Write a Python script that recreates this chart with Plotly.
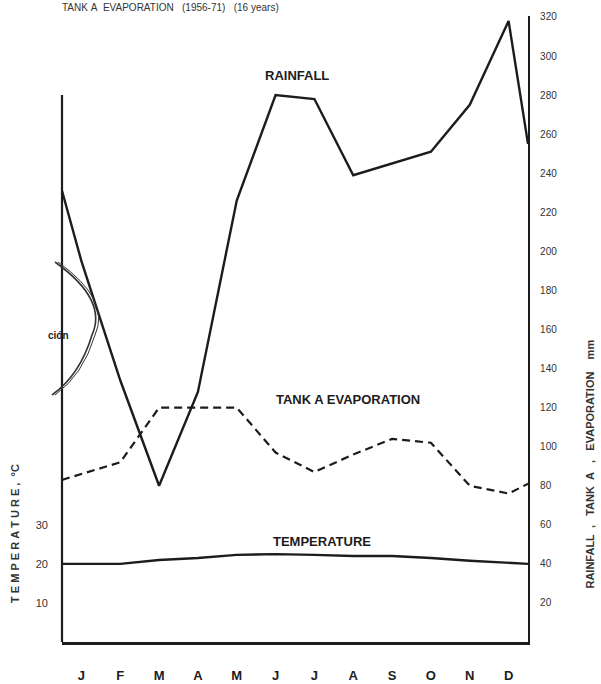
import plotly.graph_objects as go

# ---- data ----
months = ["J", "F", "M", "A", "M", "J", "J", "A", "S", "O", "N", "D"]
month_pos = [1, 2, 3, 4, 5, 6, 7, 8, 9, 10, 11, 12]
# lines run from the left frame (Dec->Jan carry-in) to the right frame (Dec->Jan carry-out)
edge_left = 0.5
edge_right = 12.5

rainfall = [195, 134, 80, 128, 226, 280, 278, 239, 245, 251, 275, 318]
rainfall_left, rainfall_right = 231, 255

evaporation = [86, 92, 120, 120, 120, 97, 87, 96, 104, 102, 80, 76]
evap_left, evap_right = 83, 81

temperature = [20.0, 20.0, 21.0, 21.5, 22.3, 22.5, 22.3, 22.0, 22.0, 21.5, 20.8, 20.2]
temp_left, temp_right = 20.0, 20.0

right_ticks = [20, 40, 60, 80, 100, 120, 140, 160, 180, 200, 220, 240, 260, 280, 300, 320]
left_ticks = [10, 20, 30]

INK = "#1c1c1c"
FONT = "Liberation Sans"
NB = "\u00a0"

xs = [edge_left] + month_pos + [edge_right]

fig = go.Figure()
fig.add_trace(go.Scatter(x=xs, y=[rainfall_left] + rainfall + [rainfall_right],
                         mode="lines", yaxis="y2",
                         line=dict(color=INK, width=2.4), showlegend=False))
fig.add_trace(go.Scatter(x=xs, y=[evap_left] + evaporation + [evap_right],
                         mode="lines", yaxis="y2",
                         line=dict(color=INK, width=2.2, dash="8px,5px"), showlegend=False))
fig.add_trace(go.Scatter(x=xs, y=[temp_left] + temperature + [temp_right],
                         mode="lines", yaxis="y",
                         line=dict(color=INK, width=2.4), showlegend=False))

R_TOP = 320.5
fig.update_layout(
    width=601, height=684,
    margin=dict(l=62, r=73, t=16, b=42),
    paper_bgcolor="white", plot_bgcolor="white",
    font=dict(family=FONT, color=INK),
    xaxis=dict(range=[edge_left, edge_right], tickvals=month_pos,
               ticktext=[f"<b>{m}</b>" for m in months],
               tickfont=dict(size=13, color=INK, family=FONT),
               showgrid=False, zeroline=False, showline=True, automargin=False,
               linecolor=INK, linewidth=2.5, ticks="", ticklabelstandoff=20),
    yaxis=dict(range=[0, R_TOP / 2], tickvals=left_ticks,
               ticktext=[str(t) for t in left_ticks],
               tickfont=dict(size=11, color="#333333", family=FONT),
               showgrid=False, zeroline=False, showline=False, ticks="",
               automargin=False, ticklabelstandoff=13),
    yaxis2=dict(range=[0, R_TOP], overlaying="y", side="right",
                tickvals=right_ticks, ticktext=[str(t) for t in right_ticks],
                tickfont=dict(size=10, color="#333333", family=FONT),
                showgrid=False, zeroline=False, showline=True, automargin=False,
                linecolor=INK, linewidth=2.2, ticks="", ticklabelstandoff=8),
)

# left frame line (stops short of the top)
fig.add_shape(type="line", xref="paper", yref="y2", x0=0, x1=0, y0=0, y1=280,
              line=dict(color=INK, width=2.2))

# series labels
fig.add_annotation(x=6.55, y=290, xref="x", yref="y2", text="<b>RAINFALL</b>",
                   showarrow=False, font=dict(size=13, color=INK, family=FONT))
fig.add_annotation(x=7.87, y=124, xref="x", yref="y2", text="<b>TANK A EVAPORATION</b>",
                   showarrow=False, font=dict(size=13, color=INK, family=FONT))
fig.add_annotation(x=7.2, y=51.7, xref="x", yref="y2", text="<b>TEMPERATURE</b>",
                   showarrow=False, font=dict(size=13, color=INK, family=FONT))

# faint header text
header = f"TANK{NB}A{NB}{NB}EVAPORATION{NB}{NB}{NB}(1956-71){NB}{NB}{NB}(16{NB}years)"
fig.add_annotation(x=-0.004, y=1.013, xref="paper", yref="paper", xanchor="left",
                   yanchor="middle", text=header, showarrow=False,
                   font=dict(size=10, color="#333333", family=FONT))

# axis titles
right_title = (f"<b>RAINFALL{NB}{NB},{NB}{NB}{NB}TANK{NB}{NB}A{NB}{NB}{NB},{NB}{NB}{NB}"
               f"EVAPORATION{NB}{NB}{NB}{NB}mm</b>")
fig.add_annotation(x=1.133, y=0.285, xref="paper", yref="paper", textangle=-90,
                   xanchor="center", yanchor="middle",
                   text=right_title, showarrow=False,
                   font=dict(size=11, color="#333333", family=FONT))
left_title = "<b>" + NB.join("TEMPERATURE,") + NB + NB + "°C</b>"
fig.add_annotation(x=-0.101, y=0.174, xref="paper", yref="paper", textangle=-90,
                   xanchor="center", yanchor="middle",
                   text=left_title, showarrow=False,
                   font=dict(size=11, color="#333333", family=FONT))

# scan artifact: double arc and "ción" at the left edge
def px(xp):
    return (xp - 62) / 466.0

def py(yp):
    return (642 - yp) / 626.0

for off in (0, 3):
    path = (f"M {px(55 + off)},{py(262)} Q {px(108 + off)},{py(300)} {px(92 + off)},{py(335)} "
            f"Q {px(80 + off)},{py(375)} {px(52 + off)},{py(395)}")
    fig.add_shape(type="path", xref="paper", yref="paper", path=path,
                  line=dict(color="#333333", width=1.6 if off == 0 else 1.0))
fig.add_annotation(x=px(58), y=py(335), xref="paper", yref="paper", xanchor="center",
                   text="<b>ción</b>", showarrow=False,
                   font=dict(size=10, color=INK, family=FONT))

fig.write_html("out.html")
